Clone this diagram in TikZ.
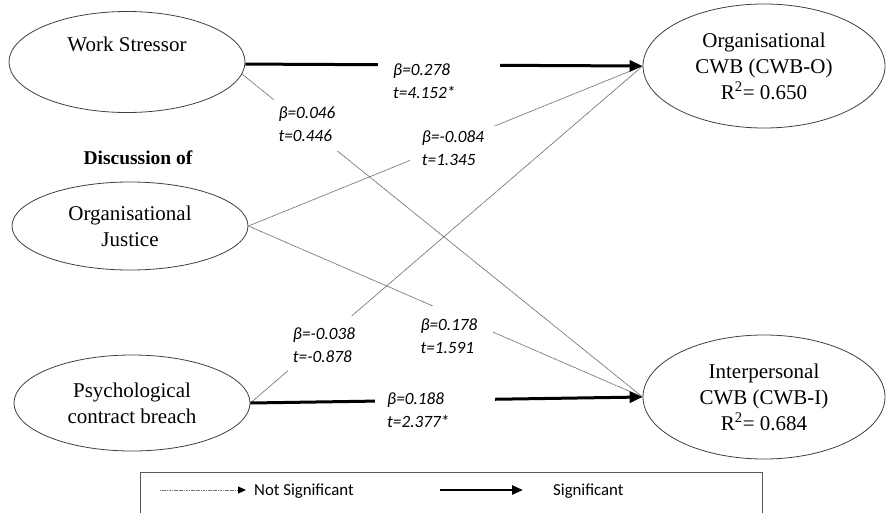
\documentclass[tikz,border=0pt]{standalone}
\usepackage{fontspec}
\setmainfont{Liberation Serif}
\newfontfamily\calibri{Carlito}
\usetikzlibrary{arrows.meta,shapes.geometric}
\begin{document}
\begin{tikzpicture}[x=1pt,y=-1pt,
  ell/.style={draw=black!75, line width=0.8pt, ellipse, inner sep=0pt, align=center,
    font=\fontsize{21}{26}\selectfont},
  serif/.style={font=\fontsize{21}{26}\selectfont, align=center},
  sigarrow/.style={line width=3pt, -{Triangle[length=13pt,width=11pt]}},
  nsline/.style={draw=black!55, line width=0.8pt, dash pattern=on 1.2pt off 0.5pt},
  lab/.style={fill=white, align=left, font=\calibri\itshape\fontsize{17.2}{22.5}\selectfont},
  legtext/.style={font=\calibri\fontsize{16.8}{20}\selectfont, anchor=base west, inner sep=0pt},
]
\useasboundingbox (0,0) rectangle (892,512);
\clip (0,0) rectangle (892,512);

% nodes
\node[ell, minimum width=236pt, minimum height=101pt] (ws) at (127,62) {};
\node[serif] (wst) at (127,44) {Work Stressor};
\node[font=\bfseries\fontsize{19.5}{24}\selectfont] (disc) at (138,158) {Discussion of};
\node[ell, minimum width=236pt, minimum height=88pt] (oj) at (130,226) {Organisational\\Justice};
\node[ell, minimum width=236pt, minimum height=96pt] (pcb) at (132,403) {Psychological\\contract breach};
\node[ell, minimum width=242pt, minimum height=124pt] (cwbo) at (764,66) {Organisational\\CWB (CWB-O)\\R\textsuperscript{2}= 0.650};
\node[ell, minimum width=242pt, minimum height=124pt] (cwbi) at (764,397) {Interpersonal\\CWB (CWB-I)\\R\textsuperscript{2}= 0.684};

% non-significant paths
\draw[nsline] (ws.-6) -- (cwbi.west);
\draw[nsline] (oj.east) -- (cwbo.west);
\draw[nsline] (oj.east) -- (cwbi.west);
\draw[nsline] (pcb.east) -- (cwbo.west);

% significant paths
\draw[sigarrow] (ws.-1.5) -- (cwbo.west);
\draw[sigarrow] (pcb.east) -- (cwbi.west);

% labels
\node[lab, anchor=west, text width=92pt, inner xsep=15pt, inner ysep=5pt] (l1) at (378,81) {β=0.278\\t=4.152*};
\node[lab, inner xsep=5pt, inner ysep=10pt] (l2) at (307,124) {β=0.046\\t=0.446};
\node[lab, inner xsep=12pt, inner ysep=5pt] (l3) at (453,148) {β=-0.084\\t=1.345};
\node[lab, inner xsep=16pt, inner ysep=13pt] (l4) at (449,336) {β=0.178\\t=1.591};
\node[lab, inner xsep=5pt, inner ysep=12pt] (l6) at (324,345) {β=-0.038\\t=-0.878};
\node[lab, anchor=west, text width=96pt, inner xsep=12pt, inner ysep=5pt] (l5) at (375,410) {β=0.188\\t=2.377*};

% legend
\node[draw=black!65, line width=1pt, minimum width=622pt, minimum height=60pt, inner sep=0pt] (legend) at (451,502) {};
\coordinate (n1) at (160,490);
\coordinate (n2) at (246,490);
\draw[nsline, -{Triangle[length=8pt,width=7pt,color=black]}] (n1) -- (n2);
\node[legtext] (nst) at (254,495) {Not Significant};
\coordinate (s1) at (440,490);
\coordinate (s2) at (523,490);
\draw[line width=2.5pt, -{Triangle[length=11pt,width=9pt]}] (s1) -- (s2);
\node[legtext] (st) at (553,495) {Significant};
\end{tikzpicture}
\end{document}
